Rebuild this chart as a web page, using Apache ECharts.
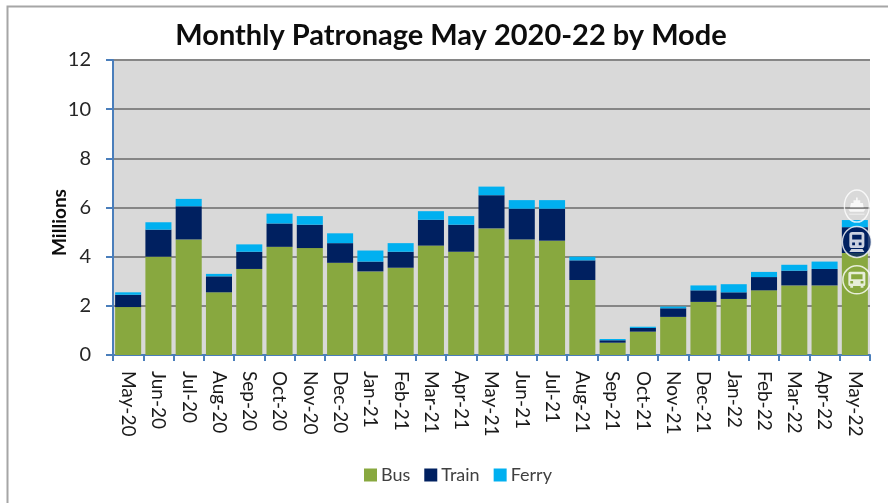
<!DOCTYPE html>
<html>
<head>
<meta charset="utf-8">
<style>
  html, body { margin: 0; padding: 0; background: #fff; }
  #chart { width: 888px; height: 503px; }
</style>
<script src="https://cdn.jsdelivr.net/npm/echarts@6/dist/echarts.min.js"></script>
</head>
<body>
<div id="chart"></div>
<script>
const months = ['May-20','Jun-20','Jul-20','Aug-20','Sep-20','Oct-20','Nov-20','Dec-20','Jan-21','Feb-21','Mar-21','Apr-21',
  'May-21','Jun-21','Jul-21','Aug-21','Sep-21','Oct-21','Nov-21','Dec-21','Jan-22','Feb-22','Mar-22','Apr-22','May-22'];

const bus   = [1.95,4.00,4.70,2.55,3.50,4.40,4.35,3.75,3.40,3.55,4.45,4.20,5.15,4.70,4.65,3.05,0.50,0.95,1.55,2.16,2.28,2.63,2.83,2.83,4.15];
const train = [0.50,1.10,1.35,0.65,0.70,0.95,0.95,0.80,0.40,0.65,1.05,1.10,1.35,1.25,1.30,0.80,0.10,0.15,0.35,0.47,0.27,0.54,0.60,0.67,1.05];
const ferry = [0.10,0.30,0.30,0.10,0.30,0.40,0.35,0.40,0.45,0.35,0.35,0.35,0.35,0.35,0.35,0.15,0.05,0.05,0.07,0.20,0.33,0.21,0.24,0.30,0.29];

// badges sitting on the last bar, top to bottom
const iconValues = [6.06, 4.6, 3.06];

const FONT = 'Lato';

// little white glyphs for the three modes
const ferryPath = 'path://M9 0h2v3h3v3h3l1 5H2l1-5h3V3h3zM0 13h20l-2 3H2zM1 18h18v1H1z';
const trainPath = 'path://M5 0h10a3 3 0 0 1 3 3v11a3 3 0 0 1-3 3H5a3 3 0 0 1-3-3V3a3 3 0 0 1 3-3zM5 3v5h10V3zM5 11v3h3v-3zM12 11v3h3v-3zM4 18h12l2 3H2z';
const busPath = 'path://M3 0h14a2 2 0 0 1 2 2v13a2 2 0 0 1-2 2v2h-3v-2H6v2H3v-2a2 2 0 0 1-2-2V2a2 2 0 0 1 2-2zM4 3v6h12V3zM3 11v3h3v-3zM14 11v3h3v-3z';

function barSeries(name, values, color) {
  return {
    name,
    type: 'bar',
    stack: 'total',
    barCategoryGap: '14%',
    data: values,
    itemStyle: { color }
  };
}

const chart = echarts.init(document.getElementById('chart'), null, { renderer: 'canvas' });

chart.setOption({
  animation: false,
  backgroundColor: '#fff',
  title: {
    text: 'Monthly Patronage May 2020-22 by Mode',
    left: 446,
    top: 16,
    textAlign: 'center',
    textStyle: { fontFamily: FONT, fontSize: 29, fontWeight: 'bold', color: '#0d0d0d' }
  },
  legend: {
    data: ['Bus', 'Train', 'Ferry'],
    left: 359,
    top: 461,
    itemWidth: 13,
    itemHeight: 13,
    itemGap: 14,
    icon: 'rect',
    textStyle: { fontFamily: FONT, fontSize: 18, color: '#404040', padding: [0, 0, 0, -1] }
  },
  grid: {
    left: 113,
    right: 18,
    top: 60,
    bottom: 148,
    show: true,
    backgroundColor: '#d9d9d9',
    borderWidth: 0
  },
  xAxis: {
    type: 'category',
    data: months,
    axisLine: { lineStyle: { color: '#4a7ebb', width: 2 } },
    axisTick: { show: true, length: 6, alignWithLabel: false, lineStyle: { color: '#4a7ebb', width: 2 } },
    axisLabel: {
      interval: 0,
      rotate: -90,
      margin: 16,
      fontFamily: FONT,
      fontSize: 19,
      color: '#1a1a1a'
    }
  },
  yAxis: {
    type: 'value',
    min: 0,
    max: 12,
    interval: 2,
    name: 'Millions',
    nameLocation: 'middle',
    nameGap: 44,
    nameMoveOverlap: false,
    nameTextStyle: { fontFamily: FONT, fontSize: 19, fontWeight: 'bold', color: '#0d0d0d', padding: [0, 30, 0, 0] },
    axisLine: { show: true, lineStyle: { color: '#4a7ebb', width: 2 } },
    axisTick: { show: true, length: 7, lineStyle: { color: '#4a7ebb', width: 2 } },
    axisLabel: { margin: 22, fontFamily: FONT, fontSize: 20, color: '#262626' },
    splitLine: { show: true, lineStyle: { color: '#868686', width: 2 } }
  },
  series: [
    barSeries('Bus', bus, '#88a83f'),
    barSeries('Train', train, '#002060'),
    barSeries('Ferry', ferry, '#00b0f0'),
    {
      name: 'rings',
      type: 'scatter',
      silent: true,
      z: 5,
      symbol: 'circle',
      symbolOffset: [2, 0],
      data: [
        { value: ['May-22', iconValues[0]], symbolSize: [25, 32], itemStyle: { color: 'rgba(255,255,255,0)', borderColor: '#fff', borderWidth: 1.5 } },
        { value: ['May-22', iconValues[1]], symbolSize: [29, 31], itemStyle: { color: '#002060', borderColor: '#fff', borderWidth: 1.5 } },
        { value: ['May-22', iconValues[2]], symbolSize: [28, 28], itemStyle: { color: 'rgba(255,255,255,0)', borderColor: '#fff', borderWidth: 1.5 } }
      ]
    },
    {
      name: 'glyphs',
      type: 'scatter',
      silent: true,
      z: 6,
      symbolOffset: [2, 0],
      itemStyle: { color: '#fff' },
      data: [
        { value: ['May-22', iconValues[0]], symbol: ferryPath, symbolSize: [17, 17] },
        { value: ['May-22', iconValues[1]], symbol: trainPath, symbolSize: [15, 20] },
        { value: ['May-22', iconValues[2]], symbol: busPath, symbolSize: [17, 16] }
      ]
    }
  ],
  graphic: [{
    type: 'rect',
    silent: true,
    z: -1,
    shape: { x: 7.5, y: 6.5, width: 900, height: 520 },
    style: { fill: 'none', stroke: '#a6a6a6', lineWidth: 2 }
  }]
});
</script>
</body>
</html>
